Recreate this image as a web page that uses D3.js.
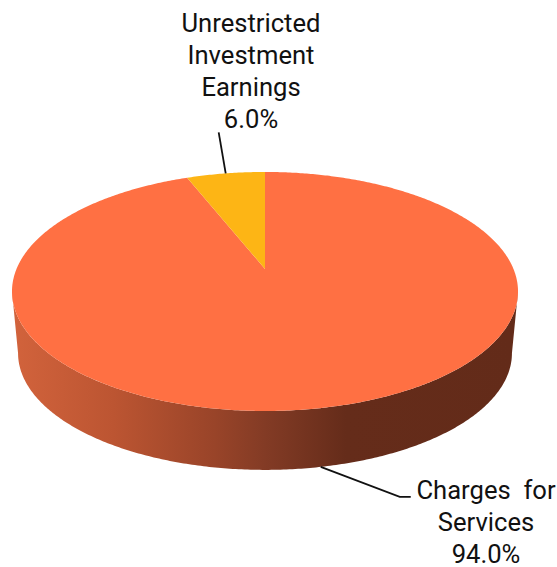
<!DOCTYPE html>
<html>
<head>
<meta charset="utf-8">
<script src="https://cdn.jsdelivr.net/npm/d3@7/dist/d3.min.js"></script>
<style>
html,body{margin:0;padding:0;background:#fff;overflow:hidden}
svg{display:block}
text{font-family:Roboto,sans-serif;font-size:25.6px;fill:#111;text-anchor:middle}
</style>
</head>
<body>
<svg id="chart" width="557" height="567"></svg>
<script>
// Revenue shares
const categories = ["Charges for Services", "Unrestricted Investment Earnings"];
const shares = [94.0, 6.0];
const sliceColors = ["#FF7043", "#FDB515"];
const labelLines = [["Charges  for", "Services", "94.0%"], ["Unrestricted", "Investment", "Earnings", "6.0%"]];

// Disc geometry: a unit circle seen in perspective
const hub = {x: 265, y: 269};
const spreadX = 248.5, spreadY = 115.3, tilt = 0.188;
const floor = {scale: 0.976, dy: 62.3};

// Unit-disc position at a clockwise angle measured from the back of the disc
function project(angle, radius = 1, level = null) {
  const u = radius * Math.sin(angle), v = -radius * Math.cos(angle);
  const w = 1 - tilt * v;
  let x = spreadX * u / w, y = spreadY * v / w;
  if (level) { x *= level.scale; y = y * level.scale + level.dy; }
  return [hub.x + x, hub.y + y];
}

const svg = d3.select("#chart");
const pie = d3.pie().sort(null).startAngle(0).endAngle(2 * Math.PI);
const arcs = pie(shares);
const line = d3.line();

// Side wall shading runs left to right across the visible rim
const defs = svg.append("defs");
const wall = defs.append("linearGradient").attr("id", "wall")
  .attr("gradientUnits", "userSpaceOnUse")
  .attr("x1", 12).attr("x2", 518).attr("y1", 0).attr("y2", 0);
[[0, "#D2633C"], [0.2, "#BC5532"], [0.4, "#994429"], [0.5, "#833B25"], [0.66, "#652C1A"], [1, "#632B19"]]
  .forEach(([o, c]) => wall.append("stop").attr("offset", o).attr("stop-color", c));

const tangent = Math.acos(-tilt);
const sweep = d3.range(tangent, 2 * Math.PI - tangent, 0.01).concat(2 * Math.PI - tangent);
const wallPoints = sweep.map(a => project(a)).concat(sweep.slice().reverse().map(a => project(a, 1, floor)));
svg.append("path").attr("d", line(wallPoints) + "Z").attr("fill", "url(#wall)");

// Top face slices
svg.selectAll("path.slice").data(arcs).join("path")
  .attr("class", "slice")
  .attr("fill", (d, i) => sliceColors[i])
  .attr("d", d => {
    const steps = d3.range(d.startAngle, d.endAngle, 0.01).concat(d.endAngle);
    return line([[hub.x, hub.y], ...steps.map(a => project(a))]) + "Z";
  });

// Leader lines, each starting on the rim at its slice's middle angle
const mid = d => (d.startAngle + d.endAngle) / 2;
const chargesStart = project(mid(arcs[0]), 1, floor);
const earningsStart = project(mid(arcs[1]));
const leaders = [
  [chargesStart, [chargesStart[0] + 79, chargesStart[1] + 30], [chargesStart[0] + 90, chargesStart[1] + 30]],
  [earningsStart, [earningsStart[0] - 7, earningsStart[1] - 41]]
];
svg.selectAll("path.leader").data(leaders).join("path")
  .attr("class", "leader")
  .attr("fill", "none").attr("stroke", "#111").attr("stroke-width", 1.8)
  .attr("d", d => line(d));

// Slice labels
const labelAnchors = [{x: 486, y: 499, step: 32}, {x: 251, y: 32, step: 32}];
labelLines.forEach((rows, i) => {
  const a = labelAnchors[i];
  svg.append("text").selectAll("tspan").data(rows).join("tspan")
    .attr("x", a.x).attr("y", (d, j) => a.y + j * a.step)
    .style("white-space", "pre")
    .text(d => d);
});
</script>
</body>
</html>
